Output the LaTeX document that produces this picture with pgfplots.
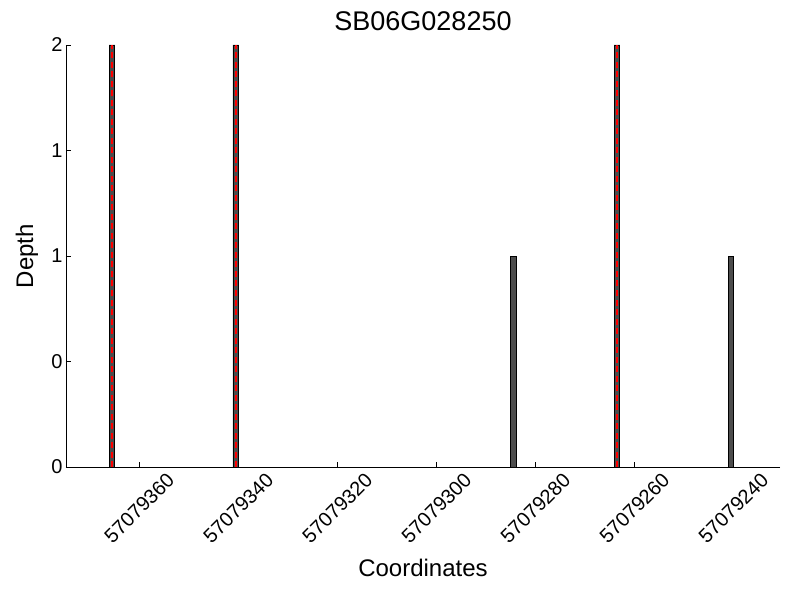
\documentclass[border=0pt]{standalone}
\usepackage{pgfplots}
\pgfplotsset{compat=1.18}
\usepackage{fontspec}
\setmainfont{Liberation Sans}
\begin{document}
\begin{tikzpicture}[x=1pt,y=1pt]
\path[use as bounding box] (0,0) rectangle (800,600);
\begin{axis}[
  at={(66pt,133pt)}, anchor=south west,
  width=714pt, height=422pt, scale only axis,
  x dir=reverse,
  xmin=30.6, xmax=174.8,
  ymin=0, ymax=2,
  axis lines=left,
  axis line style={-, line width=0.9pt},
  tick align=inside,
  major tick length=5pt,
  tick style={black, line width=0.7pt},
  xtick={160,140,120,100,80,60,40},
  xticklabels={57079360,57079340,57079320,57079300,57079280,57079260,57079240},
  ytick={0,0.5,1,1.5,2},
  yticklabels={0,0,1,1,2},
  xticklabel style={anchor=center, yshift=-41pt, rotate=45, font=\fontsize{20}{24}\selectfont},
  yticklabel style={font=\fontsize{20}{24}\selectfont},
  xlabel={Coordinates},
  ylabel={Depth},
  title={SB06G028250},
  xlabel style={at={(axis description cs:0.5,-0.2393)}, anchor=center, font=\fontsize{24}{28}\selectfont},
  ylabel style={at={(axis description cs:-0.0546,0.5)}, anchor=center, font=\fontsize{24}{28}\selectfont},
  title style={at={(axis description cs:0.5,1.0415)}, anchor=center, font=\fontsize{27}{32}\selectfont},
  clip=false,
]
% x = coordinate - 57079200
\addplot[ybar, bar width=1.15, fill=black!70, draw=black, line width=0.9pt] coordinates {
  (165.5,2) (140.5,2) (84.5,1) (63.5,2) (40.5,1)
};
\addplot[red, line width=2.4pt, dash pattern=on 6pt off 3.5pt] coordinates {(165.5,0) (165.5,2)};
\addplot[red, line width=2.4pt, dash pattern=on 6pt off 3.5pt] coordinates {(140.5,0) (140.5,2)};
\addplot[red, line width=2.4pt, dash pattern=on 6pt off 3.5pt] coordinates {(63.5,0) (63.5,2)};
\end{axis}
\end{tikzpicture}
\end{document}
